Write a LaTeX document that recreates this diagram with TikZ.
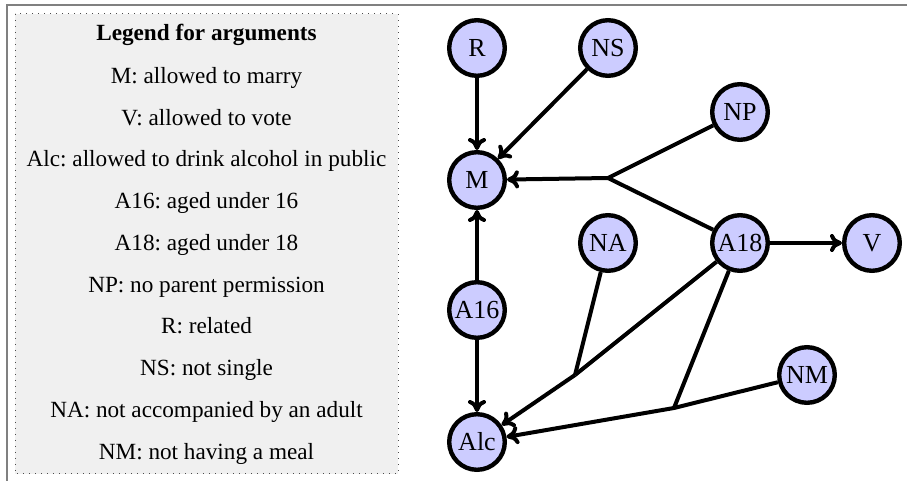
\documentclass[tikz,border=0pt]{standalone}
\usepackage{fontspec}
\setmainfont{Liberation Serif}
\usepackage{xcolor}
\usetikzlibrary{arrows.meta}
\definecolor{argfill}{HTML}{CCCCFF}
\definecolor{legfill}{HTML}{F0F0F0}
\definecolor{framegray}{HTML}{808080}
\frenchspacing
\tikzset{
  arg/.style={circle, draw=black, fill=argfill, line width=2.2pt, minimum size=27.8pt,
    inner sep=0pt, font=\fontsize{13}{15}\selectfont},
  att/.style={draw=black, line width=2pt, line join=round},
  attarr/.style={att, -{To[length=6pt,width=9pt]}},
  legbox/.style={draw=black!70, fill=legfill, line width=0.5pt, dash pattern=on 0.5pt off 2.5pt},
  frame/.style={draw=framegray, line width=1pt},
  leg/.style={anchor=base, font=\fontsize{11.6}{14}\selectfont},
}

\begin{document}
\begin{tikzpicture}[x=0.5pt,y=-0.5pt]
  \useasboundingbox (0,0) rectangle (907,481);
  \draw[frame] (907,5.5) -- (7,5.5) -- (7,481);
  % legend
  \draw[legbox] (15,14) rectangle (398,474);
  \node[leg, font=\fontsize{11.6}{14}\selectfont\bfseries] (title) at (206.5,41) {Legend for arguments};
  \foreach \t [count=\i from 0] in {M: allowed to marry, V: allowed to vote,
      Alc: allowed to drink alcohol in public, A16: aged under 16, A18: aged under 18,
      NP: no parent permission, R: related, NS: not single,
      NA: not accompanied by an adult, NM: not having a meal}
    \node[leg] (leg\i) at (206.5,{83.3+41.75*\i}) {\t};
  % arguments
  \node[arg] (R) at (477,48) {R};
  \node[arg] (NS) at (608,48) {NS};
  \node[arg] (NP) at (740,112) {NP};
  \node[arg] (M) at (477,180) {M};
  \node[arg] (NA) at (608,243) {NA};
  \node[arg] (A18) at (740,243) {A18};
  \node[arg] (V) at (872,243) {V};
  \node[arg] (A16) at (477,310) {A16};
  \node[arg] (NM) at (807,375) {NM};
  \node[arg] (Alc) at (477,442) {Alc};
  \coordinate (jM) at (608,178);
  \coordinate (jNA) at (575,375);
  \coordinate (jNM) at (674,408);
  % attacks
  \draw[attarr] (R) -- (M);
  \draw[attarr] (NS) -- (M);
  \draw[attarr] (A16) -- (M);
  \draw[attarr] (A16) -- (Alc);
  \draw[attarr] (A18) -- (V);
  \draw[att] (NP) -- (jM) -- (A18);
  \draw[attarr] (jM) -- (M);
  \draw[att] (NA) -- (jNA);
  \draw[att] (A18) -- (jNA);
  \draw[attarr] (jNA) -- (Alc);
  \draw[att] (A18) -- (jNM) -- (NM);
  \draw[attarr] (jNM) -- (Alc);
\end{tikzpicture}
\end{document}
